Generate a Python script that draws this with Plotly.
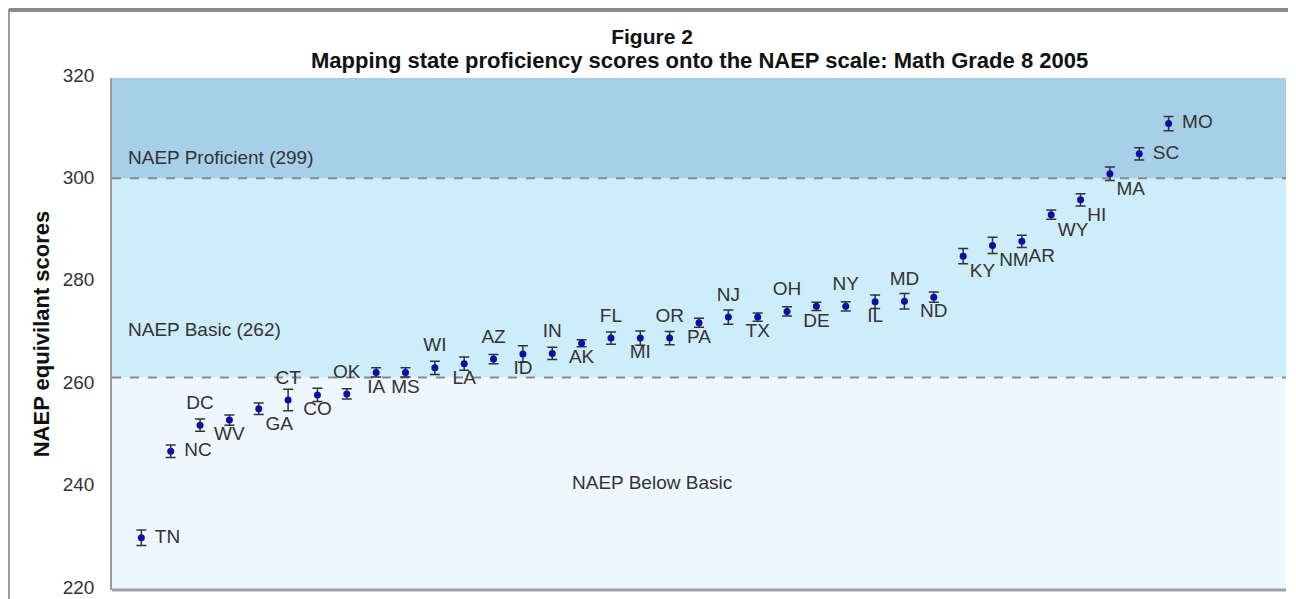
import plotly.graph_objects as go

# ---- data ----
states = ["TN", "NC", "DC", "WV", "GA", "CT", "CO", "OK", "IA", "MS", "WI", "LA",
          "AZ", "ID", "IN", "AK", "FL", "MI", "OR", "PA", "NJ", "TX", "OH", "DE",
          "NY", "IL", "MD", "ND", "KY", "NM", "AR", "WY", "HI", "MA", "SC", "MO"]
positions = list(range(1, 37))
scores = [230.2, 247.1, 252.2, 253.2, 255.4, 257.1, 258.1, 258.3, 262.5, 262.5, 263.4, 264.2,
          265.1, 266.1, 266.2, 268.2, 269.2, 269.2, 269.2, 272.2, 273.3, 273.3, 274.4, 275.4,
          275.4, 276.3, 276.4, 277.2, 285.2, 287.3, 288.1, 293.3, 296.2, 301.3, 305.2, 311.1]
errors = [1.5, 1.2, 1.2, 1.0, 1.1, 2.1, 1.3, 1.0, 0.9, 0.9, 1.3, 1.3,
          0.9, 1.6, 1.2, 0.7, 1.2, 1.4, 1.3, 0.9, 1.4, 0.8, 0.9, 0.8,
          0.9, 1.3, 1.5, 1.0, 1.5, 1.6, 1.2, 0.9, 1.2, 1.3, 1.2, 1.4]
label_pos = ["middle right", "middle right", "top center", "bottom center", "bottom right",
             "top center", "bottom center", "top center", "bottom center", "bottom center",
             "top center", "bottom center", "top center", "bottom center", "top center",
             "bottom center", "top center", "bottom center", "top center", "bottom center",
             "top center", "bottom center", "top center", "bottom center", "top center",
             "bottom center", "top center", "bottom center", "bottom right", "bottom right",
             "bottom right", "bottom right", "bottom right", "bottom right", "middle right",
             "middle right"]
# gap between point and its label (invisible spacer size), per placement
gap_by_pos = {"middle right": 20, "top center": 17, "bottom center": 8, "bottom right": 9}

proficient_cut = 300.4
basic_cut = 261.5
y_ticks = [220, 240, 260, 280, 300, 320]

FONT = "Liberation Sans, Arial, sans-serif"

fig = go.Figure()
# points with error bars
fig.add_trace(go.Scatter(
    x=positions, y=scores, mode="markers",
    marker=dict(color="#0a0fa8", size=7),
    error_y=dict(type="data", array=errors, visible=True, color="#333333",
                 thickness=1.5, width=5),
    showlegend=False, cliponaxis=False, hoverinfo="skip",
))
# state labels
fig.add_trace(go.Scatter(
    x=positions, y=scores, mode="markers+text", text=states, textposition=label_pos,
    textfont=dict(family=FONT, size=19, color="#333333"),
    marker=dict(size=[gap_by_pos[p] for p in label_pos], opacity=0),
    showlegend=False, cliponaxis=False,
))

# background bands
bands = [(220, basic_cut, "#eef6ff"), (basic_cut, proficient_cut, "#cdedfb"),
         (proficient_cut, 320, "#a8cfe8")]
for y0, y1, col in bands:
    fig.add_shape(type="rect", xref="paper", yref="y", x0=0, x1=1, y0=y0, y1=y1,
                  fillcolor=col, line=dict(width=0), layer="below")
for yv in (basic_cut, proficient_cut):
    fig.add_shape(type="line", xref="paper", yref="y", x0=0, x1=1, y0=yv, y1=yv,
                  line=dict(color="#8a8a8a", width=2, dash="dash"), layer="below")

# outer frame
fig.add_shape(type="rect", xref="paper", yref="paper", x0=-0.0878, x1=1.0068,
              y0=-0.05, y1=1.1328, line=dict(color="#9a9a9a", width=2))
fig.add_shape(type="line", xref="paper", yref="paper", x0=-0.0878, x1=1.0068,
              y0=1.1328, y1=1.1328, line=dict(color="#8a8a8a", width=4))

ann_font = dict(family=FONT, size=19, color="#333333")
fig.add_annotation(x=0.012, y=304.4, xref="paper", yref="y", text="NAEP Proficient (299)",
                   showarrow=False, xanchor="left", font=ann_font)
fig.add_annotation(x=0.012, y=270.8, xref="paper", yref="y", text="NAEP Basic (262)",
                   showarrow=False, xanchor="left", font=ann_font)
fig.add_annotation(x=0.46, y=240.9, xref="paper", yref="y", text="NAEP Below Basic",
                   showarrow=False, xanchor="center", font=ann_font)
# second title line
fig.add_annotation(x=0.5, y=1.035, xref="paper", yref="paper", xanchor="center",
                   yanchor="middle", showarrow=False,
                   text="<b>Mapping state proficiency scores onto the NAEP scale: Math Grade 8 2005</b>",
                   font=dict(family=FONT, size=22, color="#111111"))

fig.update_layout(
    width=1288, height=591,
    margin=dict(l=104, r=10, t=70, b=9, autoexpand=False),
    paper_bgcolor="white", plot_bgcolor="white",
    title=dict(text="<b>Figure 2</b>", x=0.5, xanchor="center",
               y=1 - 29 / 591, yanchor="middle", yref="container",
               font=dict(family=FONT, size=21, color="#111111")),
    xaxis=dict(range=[0, 40], visible=False, showgrid=False, zeroline=False),
    yaxis=dict(range=[220, 320], tickvals=y_ticks, showgrid=False, zeroline=False,
               showline=True, linecolor="#9a9a9a", linewidth=1.5,
               ticks="", ticklabelstandoff=12, ticklabelshift=-3,
               ticklabeloverflow="allow",
               tickfont=dict(family=FONT, size=19, color="#333333"),
               title=dict(text="<b>NAEP equivilant scores</b>", standoff=7,
                          font=dict(family=FONT, size=22, color="#111111"))),
)
# bottom frame of the plot area
fig.add_shape(type="line", xref="paper", yref="paper", x0=0, x1=1, y0=0, y1=0,
              line=dict(color="#a0a0a0", width=3))

fig.write_html("out.html")
